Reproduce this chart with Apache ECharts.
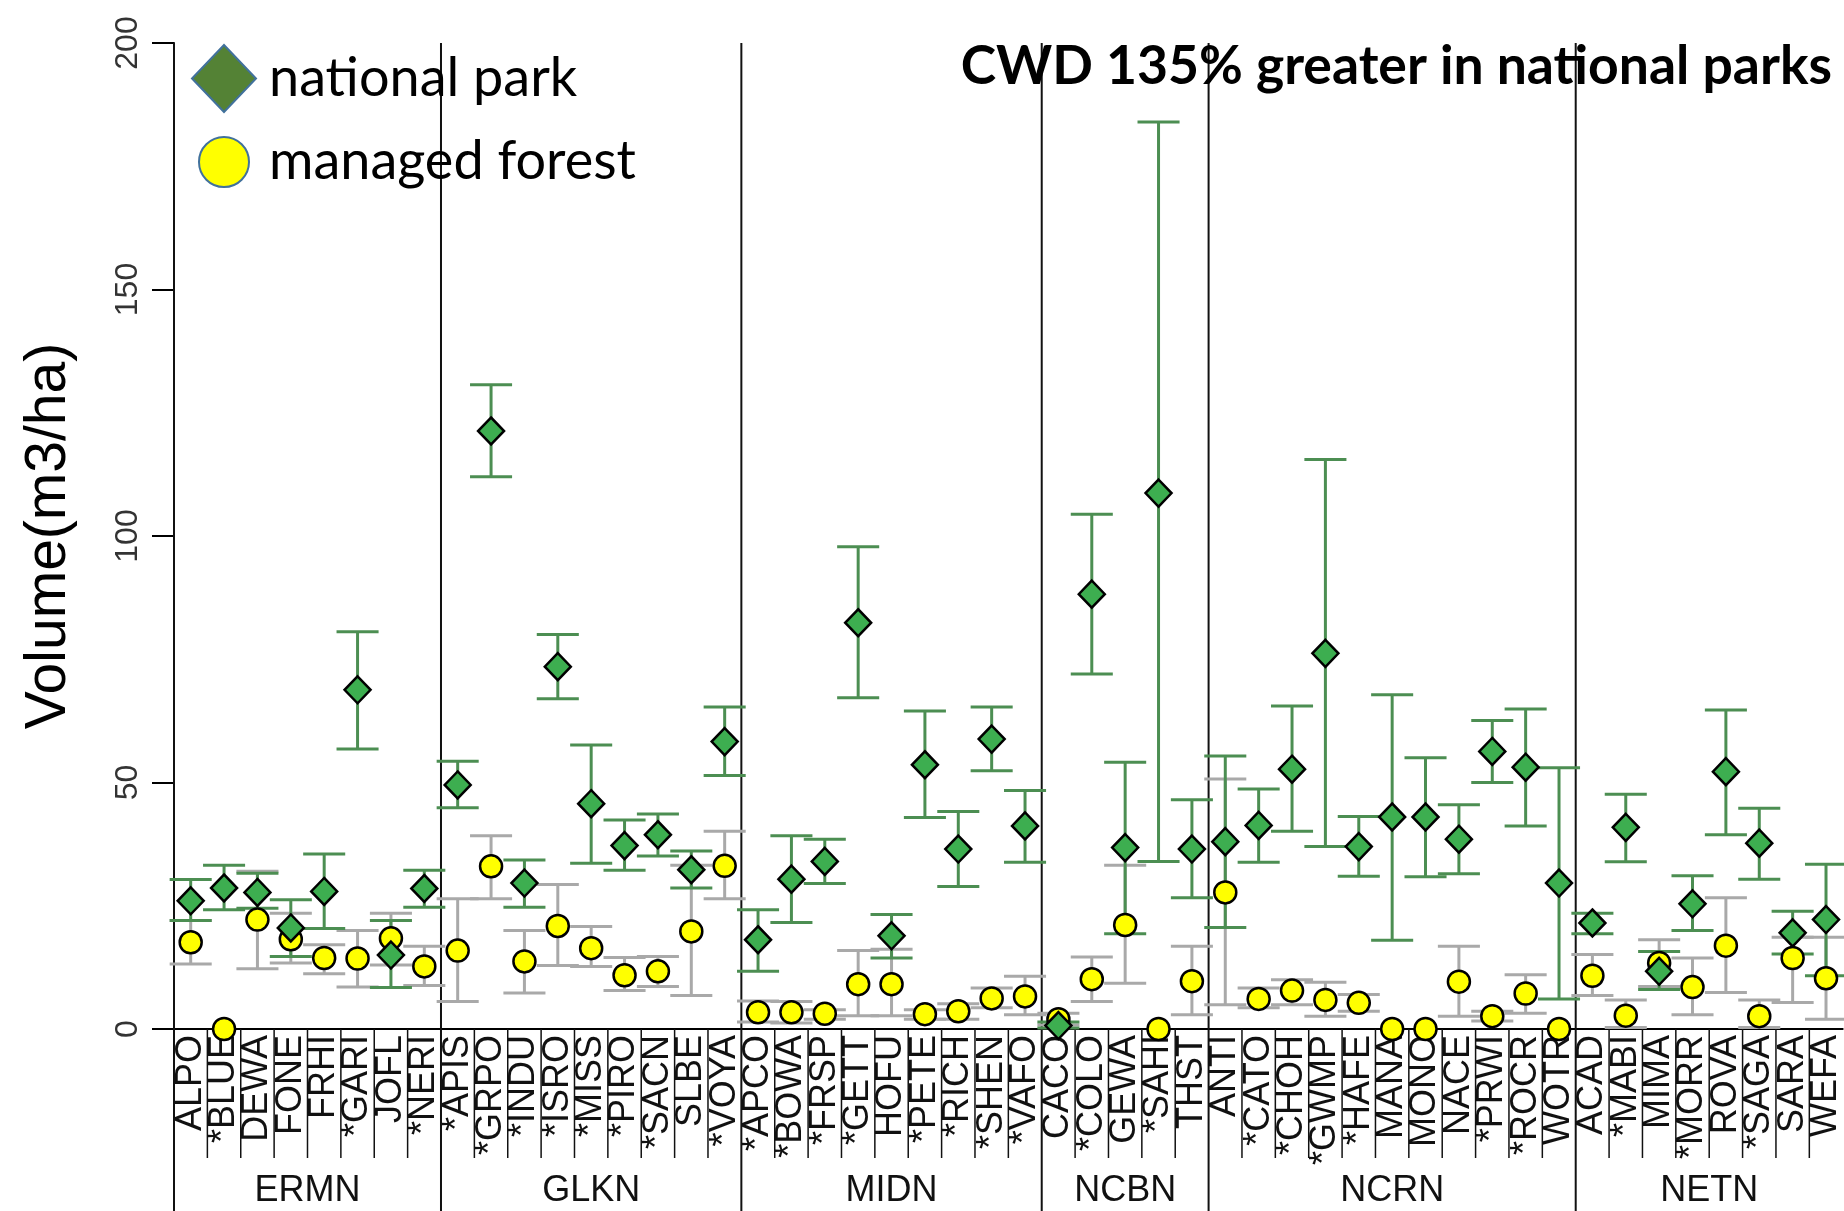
<!DOCTYPE html>
<html>
<head>
<meta charset="utf-8">
<script src="https://cdn.jsdelivr.net/npm/echarts@6/dist/echarts.min.js"></script>
<style>
  html, body { margin: 0; padding: 0; background: #ffffff; }
  #chart { width: 1844px; height: 1211px; }
</style>
</head>
<body>
<div id="chart"></div>
<script>
// Inventory networks and how many parks each one holds (in plotting order)
const networks = ['ERMN', 'GLKN', 'MIDN', 'NCBN', 'NCRN', 'NETN'];
const networkSizes = [8, 9, 9, 5, 11, 8];

// Park codes (asterisk marks parks flagged in the study)
const parks = [
  'ALPO', '*BLUE', 'DEWA', 'FONE', 'FRHI', '*GARI', 'JOFL', '*NERI',
  '*APIS', '*GRPO', '*INDU', '*ISRO', '*MISS', '*PIRO', '*SACN', 'SLBE', '*VOYA',
  '*APCO', '*BOWA', '*FRSP', '*GETT', 'HOFU', '*PETE', '*RICH', '*SHEN', '*VAFO',
  'CACO', '*COLO', 'GEWA', '*SAHI', 'THST',
  'ANTI', '*CATO', '*CHOH', '*GWMP', '*HAFE', 'MANA', 'MONO', 'NACE', '*PRWI', '*ROCR', 'WOTR',
  'ACAD', '*MABI', 'MIMA', '*MORR', 'ROVA', '*SAGA', 'SARA', 'WEFA'
];

// Coarse woody debris volume (m3/ha) inside the national parks
const parkMean = [
  26.0, 28.6, 27.7, 20.5, 27.9, 68.8, 15.0, 28.5,
  49.5, 121.3, 29.6, 73.5, 45.7, 37.2, 39.4, 32.3, 58.3,
  18.1, 30.4, 34.0, 82.4, 18.9, 53.6, 36.5, 58.8, 41.2,
  0.7, 88.2, 36.8, 108.7, 36.5,
  38.0, 41.3, 52.7, 76.2, 37.0, 43.0, 43.0, 38.5, 56.3, 53.1, 29.6,
  21.5, 40.9, 11.7, 25.4, 52.2, 37.7, 19.5, 22.2
];
const parkLow = [
  22.0, 24.2, 24.5, 14.7, 20.4, 56.8, 8.4, 24.7,
  44.9, 112.0, 24.7, 67.0, 33.6, 32.2, 35.1, 28.6, 51.4,
  11.7, 21.6, 29.5, 67.2, 14.4, 42.9, 28.9, 52.4, 33.8,
  0.2, 72.0, 19.3, 34.0, 26.6,
  20.6, 33.8, 40.1, 37.0, 31.0, 18.0, 30.9, 31.5, 50.0, 41.2, 6.1,
  19.3, 33.9, 8.0, 20.0, 39.4, 30.4, 15.2, 10.8
];
const parkHigh = [
  30.3, 33.2, 31.6, 26.2, 35.5, 80.6, 22.0, 32.2,
  54.3, 130.7, 34.3, 80.0, 57.6, 42.4, 43.6, 36.1, 65.3,
  24.2, 39.2, 38.5, 97.8, 23.2, 64.5, 44.1, 65.3, 48.4,
  1.4, 104.4, 54.1, 184.0, 46.5,
  55.4, 48.7, 65.5, 115.5, 43.1, 67.8, 55.0, 45.5, 62.6, 64.9, 53.0,
  23.5, 47.6, 15.7, 31.1, 64.7, 44.8, 23.9, 33.4
];

// Coarse woody debris volume (m3/ha) in the surrounding managed forest
const forestMean = [
  17.6, 0, 22.2, 18.2, 14.4, 14.3, 18.4, 12.7,
  15.9, 33.0, 13.7, 20.9, 16.4, 10.9, 11.7, 19.8, 33.1,
  3.4, 3.4, 3.1, 9.1, 9.1, 3.0, 3.6, 6.2, 6.6,
  2.0, 10.1, 21.1, 0, 9.7,
  27.7, 6.1, 7.8, 5.9, 5.3, 0, 0, 9.6, 2.6, 7.2, 0,
  10.8, 2.7, 13.4, 8.5, 16.9, 2.6, 14.4, 10.3
];
const forestLow = [
  13.2, null, 12.2, 13.4, 11.2, 8.5, 13.0, 8.8,
  5.6, 26.4, 7.3, 12.9, 12.7, 7.8, 8.6, 6.8, 26.4,
  1.4, 1.2, 2.0, 2.7, 2.7, 2.0, 2.0, 4.3, 2.9,
  0.8, 5.6, 9.3, null, 2.9,
  4.9, 4.3, 4.9, 2.6, 3.6, null, null, 2.6, 1.6, 3.2, null,
  6.8, 0.3, 8.6, 2.9, 7.4, 0.3, 5.4, 2.0
];
const forestHigh = [
  22.0, null, 32.0, 23.5, 17.1, 20.0, 23.5, 16.8,
  26.4, 39.2, 20.0, 29.3, 20.8, 14.5, 14.7, 33.2, 40.1,
  5.7, 5.6, 3.9, 15.9, 16.2, 3.9, 5.1, 8.3, 10.7,
  3.2, 14.6, 33.2, null, 16.8,
  50.7, 8.3, 10.0, 9.5, 7.0, null, null, 16.8, 3.6, 11.0, null,
  15.1, 5.9, 18.1, 14.4, 26.6, 5.9, 18.6, 18.6
];

const yTicks = { min: 0, max: 200, step: 50 };

// ---- derived series data ----
const groupStarts = [];
networkSizes.reduce((start, n) => { groupStarts.push(start); return start + n; }, 0);

const parkPoints = parks.map((p, i) => [i, parkMean[i]]);
const forestPoints = parks.map((p, i) => [i, forestMean[i]]);
const parkBars = parks.map((p, i) => [i, parkLow[i], parkHigh[i]]);
const forestBars = parks
  .map((p, i) => [i, forestLow[i], forestHigh[i]])
  .filter(d => d[1] != null && d[2] != null);
const dividers = parks.map((p, i) => [i, groupStarts.indexOf(i) >= 0 ? 1 : 0]);
const groupSpans = networks.map((name, g) => [groupStarts[g], groupStarts[g] + networkSizes[g] - 1, name]);

const FONT = '"Liberation Sans", Arial, Helvetica, sans-serif';

// whisker with end caps
function errorBar(color) {
  return function (params, api) {
    const x = api.value(0);
    const lo = api.coord([x, api.value(1)]);
    const hi = api.coord([x, api.value(2)]);
    const hw = api.size([1, 0])[0] * 0.63;
    const style = { stroke: color, lineWidth: 3 };
    return {
      type: 'group',
      children: [
        { type: 'line', shape: { x1: lo[0], y1: lo[1], x2: hi[0], y2: hi[1] }, style },
        { type: 'line', shape: { x1: lo[0] - hw, y1: lo[1], x2: lo[0] + hw, y2: lo[1] }, style },
        { type: 'line', shape: { x1: hi[0] - hw, y1: hi[1], x2: hi[0] + hw, y2: hi[1] }, style }
      ]
    };
  };
}

const chart = echarts.init(document.getElementById('chart'), null, { renderer: 'canvas' });

chart.setOption({
  animation: false,
  backgroundColor: '#ffffff',
  title: {
    text: 'CWD 135% greater in national parks',
    right: 12,
    top: 40,
    padding: 0,
    textStyle: { fontFamily: 'Lato', fontWeight: 'bold', fontSize: 53.5, color: '#000' }
  },
  legend: [
    {
      data: [{ name: 'national park', icon: 'diamond',
               itemStyle: { color: '#548235', borderColor: '#41719C', borderWidth: 2 } }],
      left: 191, top: 44, padding: 0,
      itemWidth: 64, itemHeight: 67,
      selectedMode: false,
      textStyle: { fontFamily: 'Lato', fontSize: 54, color: '#000', padding: [0, 0, 0, 8] }
    },
    {
      data: [{ name: 'managed forest', icon: 'circle',
               itemStyle: { color: '#FFFF00', borderColor: '#41719C', borderWidth: 2 } }],
      left: 198, top: 135, padding: 0,
      itemWidth: 50, itemHeight: 51,
      selectedMode: false,
      textStyle: { fontFamily: 'Lato', fontSize: 54, color: '#000', padding: [0, 0, 0, 15] }
    }
  ],
  grid: { left: 174, right: 0, top: 43, bottom: 182, containLabel: false },
  xAxis: {
    type: 'category',
    data: parks,
    boundaryGap: true,
    axisLine: { show: true, lineStyle: { color: '#000', width: 2 } },
    axisTick: { show: false },
    axisLabel: {
      interval: 0, rotate: 90, margin: 6,
      fontFamily: FONT, fontSize: 36, color: '#111'
    },
    splitLine: { show: false }
  },
  yAxis: {
    type: 'value',
    min: yTicks.min, max: yTicks.max, interval: yTicks.step,
    name: 'Volume(m3/ha)',
    nameLocation: 'middle',
    nameRotate: 90,
    nameGap: 96,
    nameTextStyle: { fontFamily: FONT, fontSize: 57, color: '#000' },
    axisLine: { show: true, lineStyle: { color: '#000', width: 2 } },
    axisTick: { show: true, length: 22, lineStyle: { color: '#000', width: 2 } },
    axisLabel: { rotate: 90, margin: 30, fontFamily: FONT, fontSize: 32, color: '#333' },
    splitLine: { show: false }
  },
  series: [
    {
      // category and network dividers
      type: 'custom',
      silent: true,
      clip: false,
      z: 1,
      data: dividers,
      renderItem: function (params, api) {
        const i = api.value(0);
        const w = api.size([1, 0])[0];
        const x = api.coord([i, 0])[0] - w / 2;
        const base = api.coord([i, 0])[1];
        const top = api.coord([i, yTicks.max])[1];
        if (api.value(1) === 1) {
          return { type: 'line', shape: { x1: x, y1: top, x2: x, y2: api.getHeight() },
                   style: { stroke: '#111', lineWidth: 2 } };
        }
        return { type: 'line', shape: { x1: x, y1: base, x2: x, y2: base + 129 },
                 style: { stroke: '#111', lineWidth: 1.5 } };
      }
    },
    {
      // network names under each block
      type: 'custom',
      silent: true,
      clip: false,
      z: 1,
      data: groupSpans,
      renderItem: function (params, api) {
        const a = api.coord([api.value(0), 0]);
        const b = api.coord([api.value(1), 0]);
        return {
          type: 'text',
          x: (a[0] + b[0]) / 2,
          y: a[1] + 162,
          style: {
            text: groupSpans[params.dataIndex][2],
            font: '36px ' + FONT,
            fill: '#111',
            align: 'center',
            verticalAlign: 'middle'
          }
        };
      }
    },
    {
      name: 'managed forest range',
      type: 'custom',
      silent: true,
      clip: false,
      z: 2,
      data: forestBars,
      renderItem: errorBar('#A9A9A9')
    },
    {
      name: 'national park range',
      type: 'custom',
      silent: true,
      clip: false,
      z: 3,
      data: parkBars,
      renderItem: errorBar('#4C8E52')
    },
    {
      name: 'managed forest',
      type: 'scatter',
      clip: false,
      z: 4,
      symbol: 'circle',
      symbolSize: 22,
      itemStyle: { color: '#FFFF00', borderColor: '#000', borderWidth: 2.5, opacity: 1 },
      data: forestPoints
    },
    {
      name: 'national park',
      type: 'scatter',
      clip: false,
      z: 5,
      symbol: 'diamond',
      symbolSize: [26, 27],
      itemStyle: { color: '#3DAE50', borderColor: '#000', borderWidth: 2.5, opacity: 1 },
      data: parkPoints
    }
  ]
});
</script>
</body>
</html>
